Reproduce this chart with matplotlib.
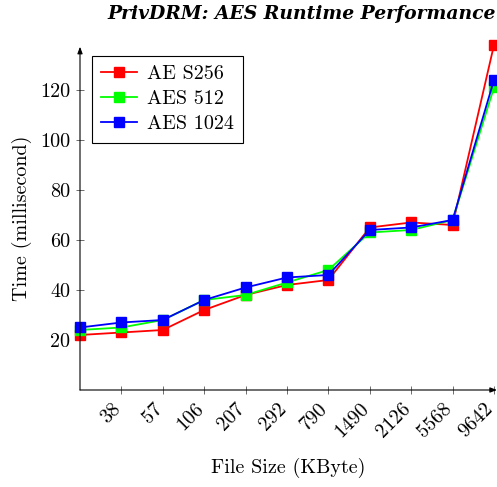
import matplotlib.pyplot as plt

# dados
tamanhos = ['38', '57', '106', '207', '292', '790', '1490', '2126', '5568', '9642']
aes256 = [22, 23, 24, 32, 38, 42, 44, 65, 67, 66, 138]
aes512 = [24, 25, 28, 36, 38, 43, 48, 63, 64, 68, 121]
aes1024 = [25, 27, 28, 36, 41, 45, 46, 64, 65, 68, 124]
y_ticks = [20, 40, 60, 80, 100, 120]

plt.rcParams['font.family'] = ['cmr10', 'DejaVu Serif']
plt.rcParams['axes.formatter.use_mathtext'] = True
FS = 14.5

fig = plt.figure(figsize=(4.97, 4.87), dpi=100)
ax = fig.add_axes([80 / 497, 97 / 487, 417 / 497, (390 - 46.7) / 487])

xs = list(range(len(aes256)))
estilo = dict(marker='s', markersize=7, linewidth=1.3, clip_on=False, zorder=3)
ax.plot(xs, aes256, color='#ff0000', label='AE S256', **estilo)
ax.plot(xs, aes512, color='#00ff00', label='AES 512', **estilo)
ax.plot(xs, aes1024, color='#0000ff', label='AES 1024', **estilo)

ax.set_xlim(0, 10 * 417 / 414)
ax.set_ylim(0, 137.3)

ax.set_xticks(range(1, len(tamanhos) + 1))
ax.set_xticklabels(tamanhos, rotation=45, ha='right', va='baseline',
                   rotation_mode='anchor', fontsize=FS)
ax.set_yticks(y_ticks)
ax.set_yticklabels([str(v) for v in y_ticks], fontsize=FS)
ax.tick_params(direction='inout', length=6, width=0.6, color='#555555', pad=4)
ax.tick_params(axis='x', pad=11)

for s in ['top', 'right', 'left', 'bottom']:
    ax.spines[s].set_visible(False)
seta = dict(arrowstyle='-|>,head_length=0.4,head_width=0.15', color='black', lw=0.8,
            shrinkA=0, shrinkB=0)
ax.annotate('', xy=(1, 0), xytext=(0, 0), xycoords='axes fraction', arrowprops=seta)
ax.annotate('', xy=(0, 1), xytext=(0, 0), xycoords='axes fraction', arrowprops=seta)

ax.set_xlabel('File Size (KByte)', fontsize=FS, labelpad=12)
ax.set_ylabel('Time (millisecond)', fontsize=FS, labelpad=6)

fig.text(107 / 497, 1 - 14 / 487, 'PrivDRM: AES Runtime Performance',
         family='DejaVu Serif', fontweight='bold', fontstyle='italic',
         fontsize=13.5, ha='left', va='center')

leg = ax.legend(loc='upper left', bbox_to_anchor=(92 / 497, 1 - 56 / 487),
                bbox_transform=fig.transFigure, borderaxespad=0, fancybox=False,
                edgecolor='black', fontsize=FS, handlelength=1.8, labelspacing=0.35,
                borderpad=0.45, handletextpad=0.5, numpoints=1)
leg.get_frame().set_linewidth(0.8)
leg.get_frame().set_alpha(1)

fig.savefig('out.png', dpi=100)
